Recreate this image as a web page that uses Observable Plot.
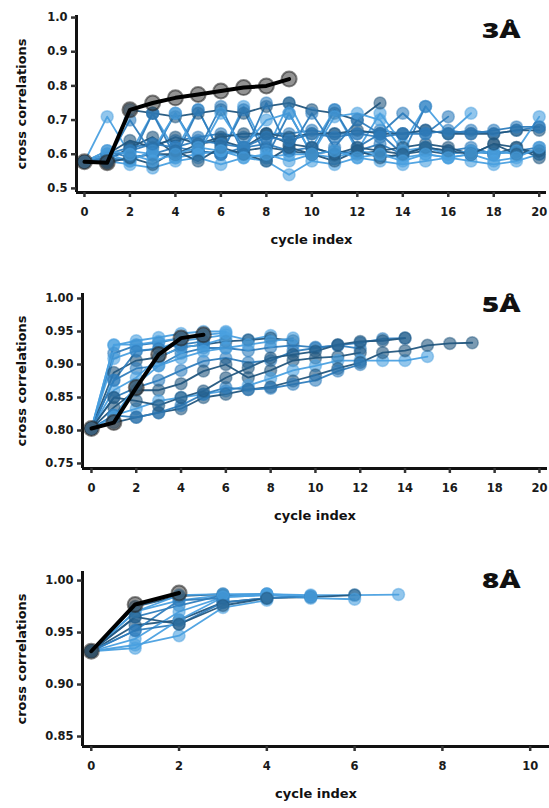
<!DOCTYPE html>
<html>
<head>
<meta charset="utf-8">
<script src="https://cdn.jsdelivr.net/npm/d3@7"></script>
<script src="https://cdn.jsdelivr.net/npm/@observablehq/plot@0.6"></script>
<style>
  html, body { margin: 0; padding: 0; background: #fff; }
  #wrap { position: relative; width: 549px; height: 808px; overflow: hidden; background: #fff; }
  .panel { position: absolute; left: 0; width: 549px; }
  .tag { position: absolute; font-family: "Open Sans", "Noto Sans", sans-serif; font-weight: 800; font-size: 21px;
         line-height: 1; transform: scaleX(1.4); transform-origin: right bottom; color: #111; white-space: nowrap; }
</style>
</head>
<body>
<div id="wrap"></div>
<script>
// ---------- palette of the run shades ----------
const shadeColors = ["#22567e", "#2f7dbd", "#4aa0e0"];

// ---------- 3Å panel ----------
const labels3 = ["3Å"];
const best3 = [0.578, 0.575, 0.73, 0.75, 0.765, 0.775, 0.785, 0.795, 0.80, 0.82];
const shades3 = [0, 1, 2, 0, 1, 2, 0, 1, 2, 0, 1, 2, 0, 1, 2];
const runs3 = [
  [0.578,0.58,0.59,0.60,0.60,0.61,0.60,0.61,0.62,0.61,0.60,0.61,0.60,0.61,0.60,0.61,0.60,0.61,0.60,0.62,0.59],
  [0.578,0.60,0.62,0.63,0.64,0.65,0.66,0.65,0.66,0.66,0.67,0.66,0.66,0.67,0.66,0.67,0.66,0.67,0.66,0.67,0.68],
  [0.578,0.71,0.60,0.72,0.61,0.73,0.60,0.74,0.61,0.75,0.62,0.73,0.61,0.72,0.63,0.74,0.66,0.72],
  [0.578,0.575,0.73,0.72,0.71,0.72,0.73,0.72,0.74,0.75,0.73,0.72,0.70,0.75],
  [0.578,0.59,0.58,0.72,0.59,0.73,0.60,0.73,0.59,0.72,0.60,0.73,0.62,0.66,0.60,0.74],
  [0.578,0.58,0.57,0.56,0.58,0.59,0.57,0.59,0.58,0.54,0.58,0.57,0.59,0.58,0.57,0.58,0.59,0.58,0.57,0.58,0.60],
  [0.578,0.60,0.64,0.62,0.65,0.63,0.65,0.66,0.66,0.65,0.66,0.66,0.67,0.66,0.66,0.67,0.66,0.66,0.66,0.67,0.67],
  [0.578,0.61,0.59,0.60,0.62,0.61,0.60,0.62,0.63,0.61,0.62,0.60,0.61,0.63,0.60,0.62,0.61,0.62,0.60,0.61,0.62],
  [0.578,0.59,0.61,0.60,0.59,0.60,0.61,0.60,0.59,0.60,0.60,0.59,0.61,0.60,0.59,0.60,0.59,0.60,0.61,0.60,0.61],
  [0.578,0.58,0.62,0.65,0.60,0.63,0.64,0.62,0.66,0.63,0.62,0.60,0.62,0.61,0.62,0.63,0.62,0.60,0.63,0.62,0.60],
  [0.578,0.58,0.70,0.60,0.72,0.61,0.74,0.60,0.75,0.61,0.72,0.62,0.70,0.66,0.72,0.66,0.71],
  [0.578,0.60,0.58,0.61,0.72,0.60,0.72,0.62,0.70,0.72,0.60,0.71,0.72,0.70,0.61,0.62,0.60,0.61,0.60,0.61,0.71],
  [0.578,0.575,0.59,0.57,0.61,0.58,0.62,0.60,0.58,0.62,0.60,0.58,0.61,0.59,0.60,0.62,0.61,0.60,0.63,0.60,0.61],
  [0.578,0.59,0.61,0.63,0.62,0.64,0.63,0.62,0.65,0.64,0.66,0.65,0.66,0.65,0.66,0.66,0.67,0.66,0.67,0.68,0.68],
  [0.578,0.61,0.60,0.58,0.60,0.62,0.61,0.59,0.60,0.58,0.60,0.61,0.59,0.60,0.58,0.60,0.59,0.60,0.58,0.59,0.62]
];
const xTicks3 = [0, 2, 4, 6, 8, 10, 12, 14, 16, 18, 20];
const yTicks3 = [0.5, 0.6, 0.7, 0.8, 0.9, 1.0];
const xDomain3 = [-0.35, 20.32];
const yDomain3 = [0.488, 1.006];

// ---------- 5Å panel ----------
const labels5 = ["5Å"];
const best5 = [0.803, 0.812, 0.865, 0.915, 0.94, 0.945];
const shades5 = [2, 1, 2, 0, 1, 2, 1, 0, 2, 0, 1, 2, 0, 1, 2];
const runs5 = [
  [0.803,0.929,0.936,0.941,0.947,0.950,0.950],
  [0.803,0.917,0.929,0.933,0.940,0.945],
  [0.803,0.909,0.921,0.924,0.936,0.940,0.945,0.937,0.944],
  [0.803,0.888,0.906,0.911,0.926,0.930,0.935,0.937,0.940,0.936],
  [0.803,0.876,0.894,0.898,0.917,0.925,0.925,0.921,0.926,0.929,0.926,0.929,0.933,0.939,0.940],
  [0.803,0.861,0.880,0.911,0.926,0.930,0.940],
  [0.803,0.850,0.865,0.876,0.891,0.905,0.910,0.903,0.906,0.920,0.925,0.929,0.924],
  [0.803,0.835,0.861,0.861,0.871,0.890,0.900,0.880,0.891,0.906,0.910,0.912,0.918],
  [0.803,0.823,0.833,0.845,0.850,0.855,0.860,0.868,0.879,0.891,0.898,0.906,0.906,0.906,0.906,0.912],
  [0.803,0.812,0.820,0.827,0.833,0.850,0.855,0.862,0.866,0.875,0.884,0.894,0.903,0.918,0.921,0.929,0.932,0.933],
  [0.803,0.823,0.820,0.827,0.838,0.855,0.865,0.862,0.864,0.870,0.876,0.890,0.900],
  [0.803,0.930,0.930,0.935,0.940,0.945,0.948],
  [0.803,0.850,0.845,0.838,0.850,0.860,0.880,0.895,0.910,0.915,0.920,0.930,0.935,0.936,0.940],
  [0.803,0.876,0.920,0.924,0.930,0.935],
  [0.803,0.820,0.870,0.898,0.910,0.920,0.925,0.930,0.935,0.940]
];
const xTicks5 = [0, 2, 4, 6, 8, 10, 12, 14, 16, 18, 20];
const yTicks5 = [0.75, 0.80, 0.85, 0.90, 0.95, 1.00];
const xDomain5 = [-0.40, 20.36];
const yDomain5 = [0.7424, 1.0076];

// ---------- 8Å panel ----------
const labels8 = ["8Å"];
const best8 = [0.932, 0.977, 0.988];
const shades8 = [2, 0, 1, 2, 1, 2, 0, 2, 1, 2, 0];
const runs8 = [
  [0.932,0.970,0.981,0.986,0.987,0.986,0.986,0.9865],
  [0.932,0.957,0.962,0.979,0.983,0.984,0.986],
  [0.932,0.965,0.976,0.986,0.987],
  [0.932,0.944,0.970,0.984,0.986,0.983,0.982],
  [0.932,0.952,0.958,0.979,0.983,0.985],
  [0.932,0.938,0.947,0.974,0.981],
  [0.932,0.975,0.985,0.987],
  [0.932,0.935,0.962,0.984,0.986],
  [0.932,0.952,0.981,0.983],
  [0.932,0.970,0.986,0.987,0.987,0.985],
  [0.932,0.965,0.958,0.976,0.983]
];
const xTicks8 = [0, 2, 4, 6, 8, 10];
const yTicks8 = [0.85, 0.90, 0.95, 1.00];
const xDomain8 = [-0.20, 10.44];
const yDomain8 = [0.8404, 1.0087];

const xTitle = "cycle index";
const yTitle = "cross correlations";

function panel({runs, shades, best, xDomain, yDomain, xTicks, yTicks, yFormat, height, margins}) {
  const rows = runs.flatMap((vals, r) => vals.map((v, i) => ({run: r, cycle: i, value: v, color: shadeColors[shades[r]]})));
  const bestRows = best.map((v, i) => ({cycle: i, value: v}));
  const [mt, mr, mb, ml] = margins;
  const font = {fontFamily: "DejaVu Sans", fontWeight: "bold"};
  return Plot.plot({
    width: 549, height,
    marginTop: mt, marginRight: mr, marginBottom: mb, marginLeft: ml,
    style: {fontFamily: "DejaVu Sans", fontWeight: "bold", fontSize: "11.5px", color: "#1a1a1a", background: "transparent", overflow: "visible"},
    x: {domain: xDomain},
    y: {domain: yDomain},
    color: {type: "identity"},
    marks: [
      Plot.line(rows, {x: "cycle", y: "value", z: "run", stroke: "color", strokeWidth: 1.8, strokeOpacity: 0.95}),
      Plot.dot(rows, {x: "cycle", y: "value", r: 6, fill: "color", fillOpacity: 0.6, stroke: "color", strokeOpacity: 0.45, strokeWidth: 1.5}),
      Plot.dot(bestRows, {x: "cycle", y: "value", r: 7.5, fill: "#3a3a3a", fillOpacity: 0.55, stroke: "#222", strokeOpacity: 0.55, strokeWidth: 2}),
      Plot.line(bestRows, {x: "cycle", y: "value", stroke: "#000", strokeWidth: 4}),
      Plot.ruleX([xDomain[0]], {stroke: "#111", strokeWidth: 3}),
      Plot.ruleY([yDomain[0]], {stroke: "#111", strokeWidth: 3}),
      Plot.axisX({ticks: xTicks, tickSize: 5, tickPadding: 10, stroke: "#333", strokeWidth: 2.5, fill: "#1a1a1a", label: null, ...font, fontSize: 11.5}),
      Plot.axisY({ticks: yTicks, tickSize: 5, tickPadding: 4, tickFormat: d3.format(yFormat), stroke: "#333", strokeWidth: 2.5, fill: "#1a1a1a", label: null, ...font, fontSize: 11.5}),
      Plot.text([xTitle], {frameAnchor: "bottom", lineAnchor: "top", dy: 42, fontSize: 13, ...font, fill: "#111"}),
      Plot.text([yTitle], {frameAnchor: "left", textAnchor: "middle", lineAnchor: "middle", rotate: -90, dx: 21.5 - ml, fontSize: 13, ...font, fill: "#111"})
    ]
  });
}

const wrap = document.getElementById("wrap");
const specs = [
  {top: 0, runs: runs3, shades: shades3, best: best3, xDomain: xDomain3, yDomain: yDomain3, xTicks: xTicks3, yTicks: yTicks3, yFormat: ".1f",
   height: 268, margins: [15, 3, 76, 76], tag: labels3[0], tagTop: 20},
  {top: 268, runs: runs5, shades: shades5, best: best5, xDomain: xDomain5, yDomain: yDomain5, xTicks: xTicks5, yTicks: yTicks5, yFormat: ".2f",
   height: 267, margins: [25, 2, 67, 82], tag: labels5[0], tagTop: 294},
  {top: 535, runs: runs8, shades: shades8, best: best8, xDomain: xDomain8, yDomain: yDomain8, xTicks: xTicks8, yTicks: yTicks8, yFormat: ".2f",
   height: 273, margins: [36, 0, 62, 82], tag: labels8[0], tagTop: 570}
];
for (const s of specs) {
  const div = document.createElement("div");
  div.className = "panel";
  div.style.top = s.top + "px";
  div.appendChild(panel(s));
  wrap.appendChild(div);
  const tag = document.createElement("div");
  tag.className = "tag";
  tag.textContent = s.tag;
  tag.style.top = s.tagTop + "px";
  tag.style.right = "28px";
  wrap.appendChild(tag);
}
</script>
</body>
</html>
